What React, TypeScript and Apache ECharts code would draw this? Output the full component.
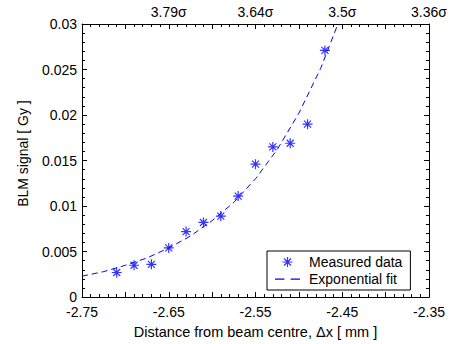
import React, { useEffect, useRef } from "react";
import * as echarts from "echarts";

// Measured data
const measuredX = [-2.71, -2.69, -2.67, -2.65, -2.63, -2.61, -2.59, -2.57, -2.55, -2.53, -2.51, -2.49, -2.47];
const measuredY = [0.0027, 0.0035, 0.0036, 0.0054, 0.0072, 0.0082, 0.0089, 0.0111, 0.0146, 0.0165, 0.0169, 0.019, 0.0271];

// Exponential fit
const fitX = [-2.75, -2.725, -2.7, -2.675, -2.65, -2.625, -2.6, -2.575, -2.55, -2.525, -2.5, -2.475, -2.455];
const fitY = [0.0023, 0.0028, 0.0035, 0.0043, 0.0054, 0.0067, 0.0084, 0.0104, 0.013, 0.0162, 0.0202, 0.0251, 0.03];

// Top axis labels (beam sigma)
const sigmaPositions = [-2.65, -2.55, -2.45, -2.35];
const sigmaLabels = ["3.79σ", "3.64σ", "3.5σ", "3.36σ"];

const FONT = "'Liberation Sans', Arial, Helvetica, sans-serif";
const STAR = "path://M5 0L5 10M0 5L10 5M1.5 1.5L8.5 8.5M1.5 8.5L8.5 1.5";
const DASH_ICON = "path://M0 0h9v1.2h-9zM15 0h9v1.2h-9z";

function isMajorX(v: number) {
  const k = Math.round(v * 100) + 275;
  return k % 10 === 0;
}

export default function App() {
  const ref = useRef<HTMLDivElement>(null);
  useEffect(() => {
    if (!ref.current) return;
    const chart = echarts.init(ref.current, null, { renderer: "svg" });
    const axisCommon = {
      axisLine: { show: true, onZero: false, lineStyle: { color: "#000", width: 1 } },
      axisTick: { show: true, inside: true, length: 5, lineStyle: { color: "#000" } },
      minorTick: { show: true, splitNumber: 5, length: 3, lineStyle: { color: "#000" } },
      splitLine: { show: false },
    };
    chart.setOption({
      animation: false,
      backgroundColor: "#fff",
      textStyle: { fontFamily: FONT },
      grid: { left: 82, right: 22, top: 24, bottom: 46, containLabel: false },
      legend: {
        orient: "vertical",
        left: 267,
        top: 251,
        padding: [4, 8, 4, 8],
        itemGap: 3,
        itemWidth: 25,
        itemHeight: 10,
        backgroundColor: "#fff",
        borderColor: "#000",
        borderWidth: 1,
        borderRadius: 0,
        textStyle: { fontFamily: FONT, fontSize: 14, color: "#000", padding: [0, 0, 0, 4] },
        data: [
          { name: "Measured data", icon: STAR, itemStyle: { color: "#0000ff", borderColor: "#0000ff", borderWidth: 1.2 } },
          { name: "Exponential fit", icon: DASH_ICON, itemStyle: { color: "#0000ff", borderWidth: 0 } },
        ],
      },
      xAxis: [
        {
          ...axisCommon,
          type: "value",
          position: "bottom",
          min: -2.75,
          max: -2.35,
          interval: 0.05,
          axisLabel: {
            color: "#000",
            fontSize: 14,
            lineHeight: 12,
            fontFamily: FONT,
            margin: 9,
            showMinLabel: true,
            showMaxLabel: true,
            formatter: (v: number) => (isMajorX(v) ? v.toFixed(2) : ""),
          },
          name: "Distance from beam centre, Δx [ mm ]",
          nameLocation: "middle",
          nameGap: 25,
          nameTextStyle: { color: "#000", fontSize: 14.5, fontFamily: FONT },
        },
        {
          ...axisCommon,
          type: "value",
          position: "top",
          min: -2.75,
          max: -2.35,
          interval: 0.05,
          axisLabel: {
            color: "#000",
            fontSize: 14,
            fontFamily: FONT,
            margin: 5,
            showMinLabel: true,
            showMaxLabel: true,
            formatter: (v: number) => {
              const i = sigmaPositions.findIndex((p) => Math.abs(p - v) < 1e-6);
              return i >= 0 ? sigmaLabels[i] : "";
            },
          },
        },
      ],
      yAxis: [
        {
          ...axisCommon,
          type: "value",
          position: "left",
          min: 0,
          max: 0.03,
          interval: 0.005,
          axisLabel: { color: "#000", fontSize: 14, lineHeight: 12, fontFamily: FONT, margin: 5 },
          name: "BLM signal [ Gy ]",
          nameLocation: "middle",
          nameGap: 52,
          nameTextStyle: { color: "#000", fontSize: 14, fontFamily: FONT, padding: [0, 0, 0, 14] },
        },
        {
          ...axisCommon,
          type: "value",
          position: "right",
          min: 0,
          max: 0.03,
          interval: 0.005,
          axisLabel: { show: false },
        },
      ],
      series: [
        {
          name: "Exponential fit",
          type: "line",
          xAxisIndex: 0,
          yAxisIndex: 0,
          data: fitX.map((x, i) => [x, fitY[i]]),
          smooth: false,
          showSymbol: false,
          symbol: "none",
          clip: true,
          lineStyle: { color: "#0000ff", width: 1, type: [6, 4] },
          itemStyle: { color: "#0000ff" },
          z: 2,
        },
        {
          name: "Measured data",
          type: "scatter",
          xAxisIndex: 0,
          yAxisIndex: 0,
          data: measuredX.map((x, i) => [x, measuredY[i]]),
          symbol: STAR,
          symbolSize: 10,
          itemStyle: { color: "#0000ff", borderColor: "#0000ff", borderWidth: 1.2 },
          z: 3,
        },
      ],
    });
    return () => chart.dispose();
  }, []);
  return <div ref={ref} style={{ position: "fixed", left: 0, top: 0, width: 451, height: 344 }} />;
}
